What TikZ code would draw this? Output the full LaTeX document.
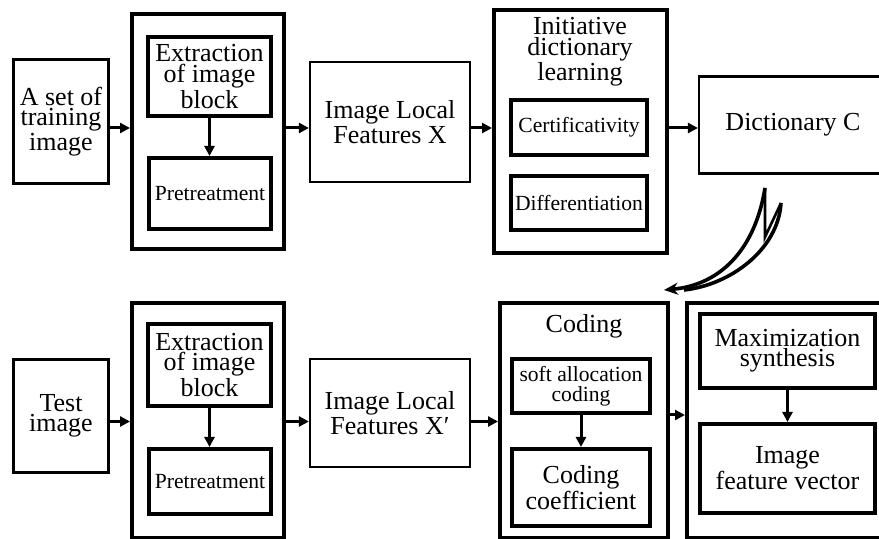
\documentclass[tikz,border=0pt]{standalone}
\usepackage{fontspec}
\setmainfont{Liberation Serif}
\usetikzlibrary{arrows.meta}
\newcommand\bigtxt{\fontsize{13}{10.2}\selectfont}
\newcommand\smalltxt{\fontsize{10.8}{10}\selectfont}

\begin{document}
\begin{tikzpicture}[x=0.5pt,y=-0.5pt,
    plainbox/.style={draw,line width=1.1pt,inner sep=0pt,align=center,font=\bigtxt},
    medbox/.style={draw,line width=1.5pt,inner sep=0pt,align=center,font=\bigtxt},
    boldbox/.style={draw,line width=2pt,inner sep=0pt,align=center,font=\bigtxt},
    small/.style={font=\smalltxt},
    arr/.style={line width=1.5pt,-{Triangle[length=5pt,width=5pt]}}]
    \useasboundingbox (0,0) rectangle (879,539);
    \clip (0,0) rectangle (879,539);
    \coordinate (toprow) at (0,128);
    \coordinate (botrow) at (0,421.5);

    % training row
    \node[medbox,minimum width=47.5pt,minimum height=62pt] (train) at (61,121.5) {A set of\\training\\image};
    \node[boldbox,minimum width=76pt,minimum height=117.5pt] (outer1) at (208,131.5) {};
    \node[boldbox,minimum width=61.5pt,minimum height=39.5pt] (extr1) at (209.5,76.5) {Extraction\\of image\\block};
    \node[boldbox,small,minimum width=61pt,minimum height=35.5pt] (pre1) at (210,193.5) {Pretreatment};
    \node[plainbox,minimum width=80pt,minimum height=60pt] (feat1) at (390,122) {Image Local\\Features X};
    \node[boldbox,minimum width=86.5pt,minimum height=121.5pt] (idl) at (580.5,131.5) {};
    \node[font=\bigtxt,align=center,inner sep=0pt] (idlt) at (580,52) {Initiative\\dictionary\\learning};
    \node[boldbox,small,minimum width=68pt,minimum height=27.5pt] (cert) at (579,127.5) {Certificativity};
    \node[boldbox,small,minimum width=68pt,minimum height=27pt] (diff) at (579,203) {Differentiation};
    \node[plainbox,minimum width=94pt,minimum height=48.5pt] (dict) at (793,125) {Dictionary C};

    \draw[arr] (train.east |- toprow) -- (outer1.west |- toprow);
    \draw[arr] (extr1.south) -- (extr1.south |- pre1.north);
    \draw[arr] (outer1.east |- toprow) -- (feat1.west |- toprow);
    \draw[arr] (feat1.east |- toprow) -- (idl.west |- toprow);
    \draw[arr] (idl.east |- toprow) -- (dict.west |- toprow);

    % bent arrow from dictionary to coding
    \draw[line width=1.8pt,-{Stealth[length=7pt,width=6pt]}] (765,188) .. controls (755,250) and (720,285) .. (664,290);
    \draw[line width=1.3pt,line join=miter] (765,188) -- (765,237) -- (781,203);
    \draw[line width=1.8pt] (781,203) .. controls (778,250) and (730,285) .. (684,290);

    % test row
    \node[medbox,minimum width=47.5pt,minimum height=56.5pt] (test) at (61,416) {Test\\image};
    \node[boldbox,minimum width=76pt,minimum height=117.5pt] (outer2) at (208,420.5) {};
    \node[boldbox,minimum width=61.5pt,minimum height=41pt] (extr2) at (209.5,365) {Extraction\\of image\\block};
    \node[boldbox,small,minimum width=61pt,minimum height=32.5pt] (pre2) at (210,481.5) {Pretreatment};
    \node[plainbox,minimum width=80pt,minimum height=54pt] (feat2) at (390,413) {Image Local\\Features X′};
    \node[boldbox,minimum width=84pt,minimum height=117.5pt] (coding) at (584,420.5) {};
    \node[font=\bigtxt,inner sep=0pt] (codingt) at (584,326) {Coding};
    \node[boldbox,small,minimum width=69pt,minimum height=27pt] (soft) at (581,386) {soft allocation\\coding};
    \node[boldbox,minimum width=69pt,minimum height=38.5pt] (coef) at (581,487.5) {Coding\\coefficient};
    \node[boldbox,minimum width=102pt,minimum height=117.5pt] (last) at (789,420.5) {};
    \node[boldbox,minimum width=87.5pt,minimum height=37pt] (maxim) at (787.5,351) {Maximization\\synthesis};
    \node[boldbox,minimum width=87.5pt,minimum height=44.5pt] (vec) at (787.5,468.5) {Image\\feature vector};

    \draw[arr] (test.east |- botrow) -- (outer2.west |- botrow);
    \draw[arr] (extr2.south) -- (extr2.south |- pre2.north);
    \draw[arr] (outer2.east |- botrow) -- (feat2.west |- botrow);
    \draw[arr] (feat2.east |- botrow) -- (coding.west |- botrow);
    \draw[arr] (soft.south) -- (soft.south |- coef.north);
    \draw[arr] (coding.east |- soft.south) -- (last.west |- soft.south);
    \draw[arr] (maxim.south) -- (maxim.south |- vec.north);
\end{tikzpicture}
\end{document}
